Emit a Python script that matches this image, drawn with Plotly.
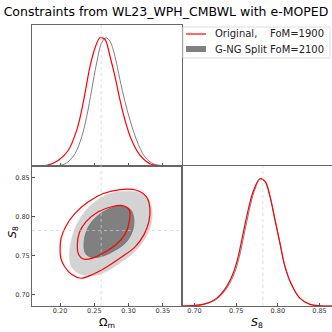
import plotly.graph_objects as go

# fiducial values and plot ranges
OM_REF = 0.26
S8_REF = 0.782
OM_RANGE = [0.159, 0.378]
S8_RANGE = [0.685, 0.865]
PDF_RANGE = [0, 1.1]
OM_TICKS = [0.20, 0.25, 0.30, 0.35]
S8_TICKS = [0.70, 0.75, 0.80, 0.85]

# 1D marginal of Omega_m (normalised to peak)
om_x_orig = [0.159, 0.1806, 0.1976, 0.2121, 0.2243, 0.2316, 0.2364, 0.2437, 0.251, 0.2583,
             0.2655, 0.2728, 0.2801, 0.2874, 0.2947, 0.3044, 0.3165, 0.3311, 0.3505, 0.378]
om_p_orig = [0.0, 0.005, 0.045, 0.123, 0.28, 0.437, 0.568, 0.777, 0.921, 1.0,
             0.987, 0.856, 0.699, 0.516, 0.359, 0.202, 0.084, 0.018, 0.0, 0.0]
om_x_split = [0.159, 0.1976, 0.2097, 0.2218, 0.2316, 0.2388, 0.2461, 0.2534, 0.2607, 0.267,
              0.2728, 0.2801, 0.2874, 0.2947, 0.302, 0.3117, 0.3238, 0.336, 0.3505, 0.378]
om_p_split = [0.0, 0.003, 0.024, 0.097, 0.228, 0.385, 0.594, 0.804, 0.961, 1.0,
              0.974, 0.856, 0.673, 0.503, 0.359, 0.202, 0.071, 0.018, 0.003, 0.0]

# 1D marginal of S8 (normalised to peak)
s8_x_orig = [0.685, 0.6983, 0.7144, 0.7264, 0.7385, 0.7464, 0.7524, 0.7584, 0.7644, 0.7704,
             0.7785, 0.7845, 0.7905, 0.7965, 0.8025, 0.8085, 0.8166, 0.8266, 0.8386, 0.8546, 0.865]
s8_p_orig = [0.0, 0.003, 0.021, 0.060, 0.152, 0.257, 0.388, 0.572, 0.756, 0.900,
             1.0, 0.979, 0.861, 0.677, 0.493, 0.310, 0.165, 0.060, 0.013, 0.0, 0.0]
s8_x_split = [0.685, 0.6998, 0.7159, 0.7279, 0.7400, 0.7479, 0.7539, 0.7599, 0.7659, 0.7717,
              0.7792, 0.7850, 0.7908, 0.7967, 0.8027, 0.8087, 0.8168, 0.8268, 0.8388, 0.8548, 0.865]
s8_p_split = [0.0, 0.003, 0.021, 0.060, 0.152, 0.257, 0.388, 0.572, 0.756, 0.900,
              1.0, 0.979, 0.861, 0.677, 0.493, 0.310, 0.165, 0.060, 0.013, 0.0, 0.0]

# 2D contours (68% / 95%) in the (Omega_m, S8) plane
split95_om = [0.2136, 0.2155, 0.2218, 0.2340, 0.2510, 0.2728, 0.2971, 0.3189, 0.3311, 0.3345,
              0.3311, 0.3214, 0.3068, 0.2874, 0.2680, 0.2510, 0.2364, 0.2243, 0.2160, 0.2136]
split95_s8 = [0.7488, 0.7658, 0.7850, 0.8041, 0.8190, 0.8296, 0.8326, 0.8296, 0.8190, 0.8020,
              0.7849, 0.7679, 0.7531, 0.7403, 0.7297, 0.7241, 0.7241, 0.7284, 0.7369, 0.7488]
split68_om = [0.2350, 0.2369, 0.2447, 0.2583, 0.2752, 0.2922, 0.3034, 0.3078, 0.3053, 0.2961,
              0.2801, 0.2607, 0.2461, 0.2379, 0.2350]
split68_s8 = [0.7607, 0.7764, 0.7913, 0.8032, 0.8113, 0.8134, 0.8083, 0.7956, 0.7807, 0.7667,
              0.7565, 0.7488, 0.7475, 0.7518, 0.7607]
orig95_om = [0.2000, 0.2015, 0.2087, 0.2218, 0.2413, 0.2631, 0.2874, 0.3117, 0.3262, 0.3311,
             0.3296, 0.3223, 0.3092, 0.2898, 0.2655, 0.2437, 0.2306, 0.2170, 0.2063, 0.2010, 0.2000]
orig95_s8 = [0.7573, 0.7722, 0.7879, 0.8041, 0.8190, 0.8296, 0.8347, 0.8338, 0.8253, 0.8105,
             0.7935, 0.7764, 0.7607, 0.7480, 0.7339, 0.7241, 0.7207, 0.7254, 0.7361, 0.7467, 0.7573]
orig68_om = [0.2252, 0.2282, 0.2379, 0.2558, 0.2752, 0.2922, 0.3010, 0.3010, 0.2951, 0.2815,
             0.2631, 0.2461, 0.2340, 0.2272, 0.2252]
orig68_s8 = [0.7637, 0.7794, 0.7935, 0.8062, 0.8126, 0.8139, 0.8083, 0.7935, 0.7777, 0.7637,
             0.7531, 0.7463, 0.7454, 0.7509, 0.7637]

LABEL_ORIG = "Original,\u00a0\u00a0\u00a0\u00a0FoM=1900"
LABEL_SPLIT = "G-NG Split FoM=2100"

RED = "#ff0000"
GREY_LINE = "#808080"
LIGHT = "#d3d3d3"
DARK = "#808080"
FONT = "DejaVu Sans"

W = H = 332
# panel edges in pixels
xl0, xl1, xr1 = 32, 182, 332
yt0, ymid, yb1 = 25, 166, 306
def px(v):
    return v / W
def py(v):
    return 1 - v / H

fig = go.Figure()

# top-left: Omega_m marginal
fig.add_trace(go.Scatter(x=om_x_split, y=om_p_split, mode="lines", line=dict(color=GREY_LINE, width=1, shape="spline"),
                         xaxis="x", yaxis="y"))
fig.add_trace(go.Scatter(x=om_x_orig, y=om_p_orig, mode="lines", line=dict(color=RED, width=1.2, shape="spline"),
                         xaxis="x", yaxis="y"))

# bottom-left: 2D contours
fig.add_trace(go.Scatter(x=split95_om, y=split95_s8, mode="lines", fill="toself", fillcolor=LIGHT,
                         line=dict(color=LIGHT, width=0.5, shape="spline"), xaxis="x2", yaxis="y2"))
fig.add_trace(go.Scatter(x=split68_om, y=split68_s8, mode="lines", fill="toself", fillcolor=DARK,
                         line=dict(color="#6e6e6e", width=0.8, shape="spline"), xaxis="x2", yaxis="y2"))
fig.add_trace(go.Scatter(x=orig95_om, y=orig95_s8, mode="lines", line=dict(color=RED, width=1.2, shape="spline"),
                         xaxis="x2", yaxis="y2"))
fig.add_trace(go.Scatter(x=orig68_om, y=orig68_s8, mode="lines", line=dict(color=RED, width=1.2, shape="spline"),
                         xaxis="x2", yaxis="y2"))

# bottom-right: S8 marginal
fig.add_trace(go.Scatter(x=s8_x_split, y=s8_p_split, mode="lines", line=dict(color=GREY_LINE, width=1, shape="spline"),
                         xaxis="x3", yaxis="y3"))
fig.add_trace(go.Scatter(x=s8_x_orig, y=s8_p_orig, mode="lines", line=dict(color=RED, width=1.2, shape="spline"),
                         xaxis="x3", yaxis="y3"))
fig.update_traces(showlegend=False, hoverinfo="skip")

# fiducial markers
ref = dict(color="#cfcfcf", width=0.7, dash="dot")
fig.add_shape(type="line", xref="x", yref="y domain", x0=OM_REF, x1=OM_REF, y0=0, y1=1, line=ref)
fig.add_shape(type="line", xref="x2", yref="y2 domain", x0=OM_REF, x1=OM_REF, y0=0, y1=1, line=ref)
fig.add_shape(type="line", xref="x2 domain", yref="y2", x0=0, x1=1, y0=S8_REF, y1=S8_REF, line=ref)
fig.add_shape(type="line", xref="x3", yref="y3 domain", x0=S8_REF, x1=S8_REF, y0=0, y1=1, line=ref)

# legend drawn by hand (plotly's own rows are too tall for this box)
fig.add_shape(type="rect", xref="paper", yref="paper", x0=px(183), x1=px(330), y0=py(58), y1=py(27),
              fillcolor="white", line=dict(color="#dddddd", width=1))
fig.add_shape(type="line", xref="paper", yref="paper", x0=px(186), x1=px(206), y0=py(34), y1=py(34),
              line=dict(color=RED, width=1.2))
fig.add_shape(type="rect", xref="paper", yref="paper", x0=px(186), x1=px(206), y0=py(52), y1=py(46),
              fillcolor=DARK, line=dict(width=0))

spine = dict(showline=True, linecolor="#666666", linewidth=1, mirror=True, showgrid=False, zeroline=False,
             ticks="inside", ticklen=3, tickwidth=1, tickcolor="#555555",
             tickfont=dict(family=FONT, size=6.5, color="#333333"))
dom_l = [px(xl0), px(xl1)]
dom_r = [px(xl1), px(xr1)]
dom_t = [py(ymid), py(yt0)]
dom_b = [py(yb1), py(ymid)]

fig.update_layout(
    width=W, height=H,
    margin=dict(l=0, r=0, t=0, b=0),
    paper_bgcolor="white", plot_bgcolor="white",
    font=dict(family=FONT, color="black"),
    showlegend=False,
    xaxis=dict(spine, domain=dom_l, range=OM_RANGE, anchor="y", tickvals=OM_TICKS, showticklabels=False),
    yaxis=dict(spine, domain=dom_t, range=PDF_RANGE, anchor="x", ticks="", showticklabels=False),
    xaxis2=dict(spine, domain=dom_l, range=OM_RANGE, anchor="y2", tickvals=OM_TICKS,
                ticktext=["%.2f" % t for t in OM_TICKS], ticklabelstandoff=-2),
    yaxis2=dict(spine, domain=dom_b, range=S8_RANGE, anchor="x2", tickvals=S8_TICKS,
                ticktext=["%.2f" % t for t in S8_TICKS]),
    xaxis3=dict(spine, domain=dom_r, range=S8_RANGE, anchor="y3", tickvals=S8_TICKS,
                ticktext=["%.2f" % t for t in S8_TICKS], ticklabelstandoff=-2),
    yaxis3=dict(spine, domain=dom_b, range=PDF_RANGE, anchor="x3", ticks="", showticklabels=False),
    yaxis4=dict(spine, domain=dom_b, range=S8_RANGE, anchor="x3", overlaying="y3", tickvals=S8_TICKS,
                showticklabels=False, mirror=False),
    title=dict(text="Constraints from WL23_WPH_CMBWL with e-MOPED", x=0.5, xanchor="center",
               y=py(12), yanchor="middle", font=dict(family=FONT, size=12.5, color="black")),
    annotations=[
        dict(text=LABEL_ORIG, xref="paper", yref="paper", x=px(213), y=py(34), xanchor="left",
             yanchor="middle", showarrow=False, font=dict(family=FONT, size=10, color="#222222")),
        dict(text=LABEL_SPLIT, xref="paper", yref="paper", x=px(213), y=py(49), xanchor="left",
             yanchor="middle", showarrow=False, font=dict(family=FONT, size=10, color="#222222")),
        dict(text="Ω<sub>m</sub>", xref="paper", yref="paper", x=px((xl0 + xl1) / 2), y=0,
             xanchor="center", yanchor="bottom", showarrow=False, font=dict(family=FONT, size=11)),
        dict(text="<i>S</i><sub>8</sub>", xref="paper", yref="paper", x=px((xl1 + xr1) / 2), y=0,
             xanchor="center", yanchor="bottom", showarrow=False, font=dict(family=FONT, size=11)),
        dict(text="<i>S</i><sub>8</sub>", xref="paper", yref="paper", x=px(4), y=py(240),
             showarrow=False, textangle=-90, font=dict(family=FONT, size=11)),
    ],
)

# drop the page's default body margin so the figure sits at the window's corner
fig.write_html("out.html", config={"displayModeBar": False},
               post_script="document.body.style.margin='0';")
